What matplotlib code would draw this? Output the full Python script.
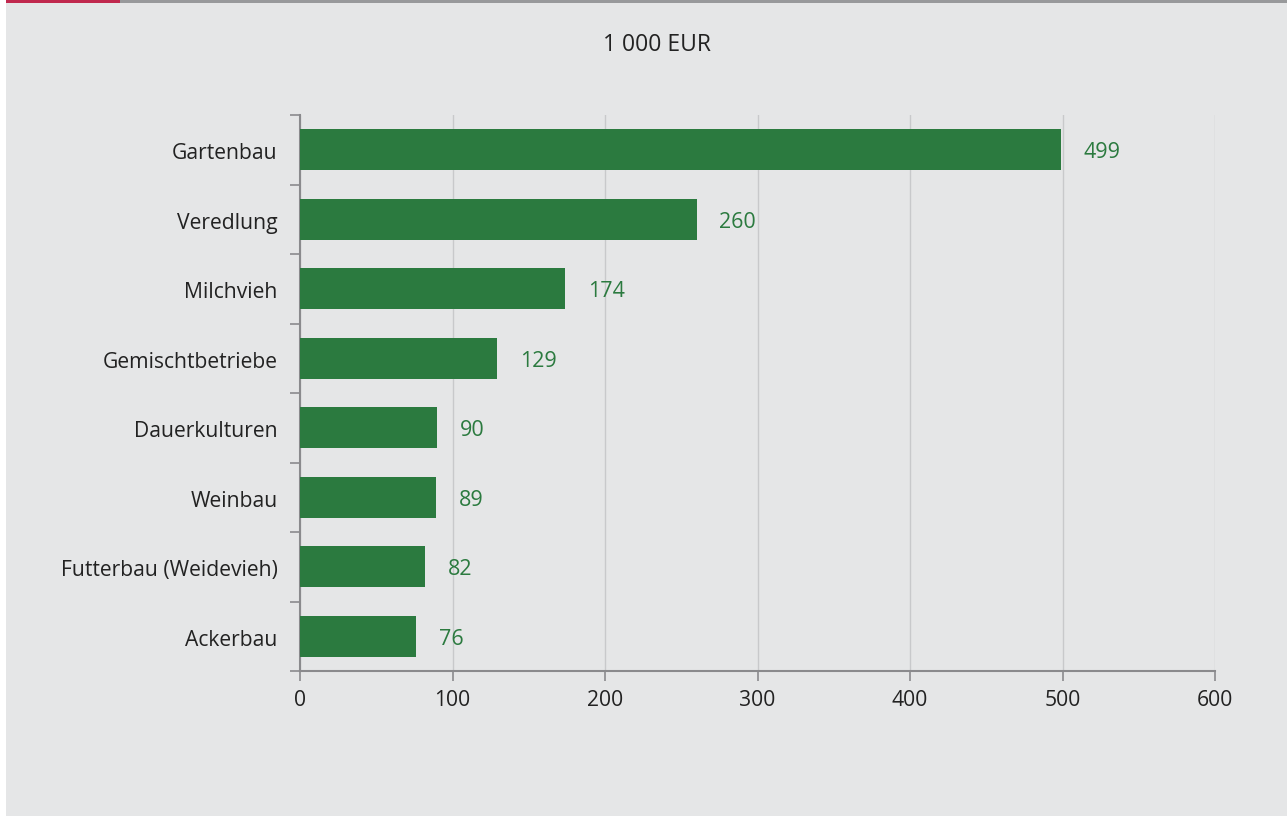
import matplotlib.pyplot as plt
from matplotlib.patches import Rectangle
from matplotlib.ticker import FixedLocator

categories = ["Gartenbau", "Veredlung", "Milchvieh", "Gemischtbetriebe",
              "Dauerkulturen", "Weinbau", "Futterbau (Weidevieh)", "Ackerbau"]
values = [499, 260, 174, 129, 90, 89, 82, 76]
x_ticks = [0, 100, 200, 300, 400, 500, 600]
unit_label = "1 000 EUR"

bg = "#e5e6e7"
green = "#2b7a3f"
axis_grey = "#8a8a8d"

plt.rcParams['font.family'] = ['Open Sans', 'DejaVu Sans']

fig = plt.figure(figsize=(12.87, 8.16), dpi=100)
fig.patch.set_facecolor("white")

# panel background with a white strip on the left and the coloured top rule
fig.add_artist(Rectangle((6 / 1287, 0), 1 - 6 / 1287, 1, transform=fig.transFigure,
                         facecolor=bg, edgecolor="none", zorder=-2))
fig.add_artist(Rectangle((120 / 1287, 1 - 3 / 816), 1, 3 / 816, transform=fig.transFigure,
                         facecolor="#98999b", edgecolor="none", zorder=-1))
fig.add_artist(Rectangle((6 / 1287, 1 - 3 / 816), 114 / 1287, 3 / 816, transform=fig.transFigure,
                         facecolor="#c0284e", edgecolor="none", zorder=-1))

ax = fig.add_axes([300 / 1287, 1 - 671 / 816, 915 / 1287, 556 / 816])
ax.set_facecolor("none")

ypos = list(range(len(categories)))
ax.barh(ypos, values, height=0.59, color=green, zorder=3)
for y, v in zip(ypos, values):
    ax.text(v + 15, y + 0.04, str(v), va="center", ha="left", color=green, fontsize=15.5)

ax.set_xlim(0, 600)
ax.set_ylim(len(categories) - 0.5, -0.5)
ax.set_xticks(x_ticks)
ax.set_xticklabels([str(t) for t in x_ticks])
ax.set_yticks([y + 0.02 for y in ypos])
ax.set_yticklabels(categories)
ax.yaxis.set_minor_locator(FixedLocator([i - 0.5 for i in range(len(categories) + 1)]))

ax.tick_params(axis="y", which="major", length=0, pad=16, labelsize=15.2, labelcolor="#222222")
ax.tick_params(axis="y", which="minor", length=7, width=1.2, color=axis_grey)
ax.tick_params(axis="x", which="major", length=7, width=1.2, color=axis_grey,
               pad=7, labelsize=15.2, labelcolor="#222222")

ax.grid(axis="x", color="#c8c9cb", linewidth=1, zorder=0)
for side in ["top", "right"]:
    ax.spines[side].set_visible(False)
for side in ["left", "bottom"]:
    ax.spines[side].set_color(axis_grey)
    ax.spines[side].set_linewidth(1.5)

fig.text(657 / 1287, 1 - 45 / 816, unit_label, ha="center", va="center",
         fontsize=16.5, color="#222222")

fig.savefig("out.png", dpi=100, facecolor=fig.get_facecolor())
